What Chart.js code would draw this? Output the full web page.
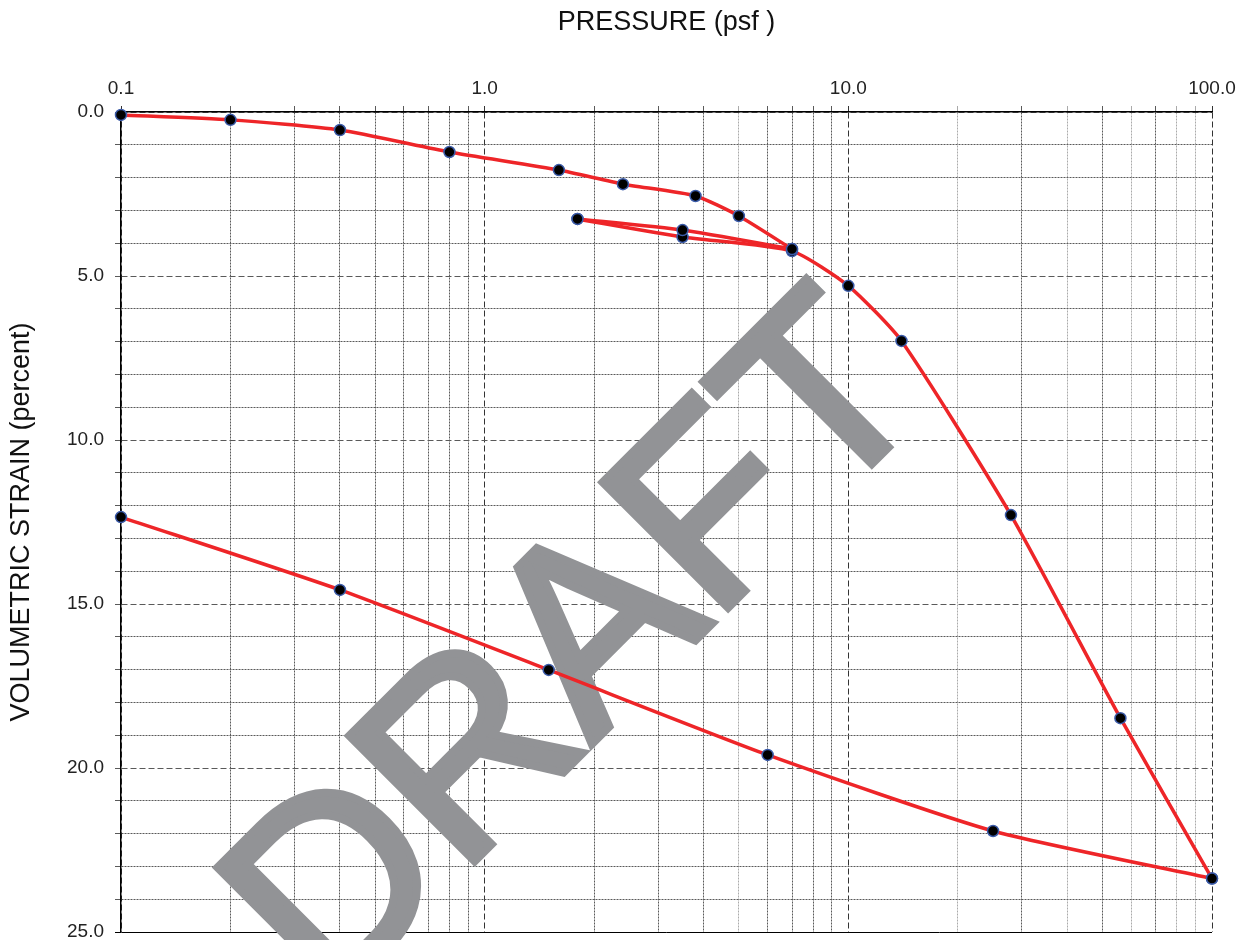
<!DOCTYPE html>
<html>
<head>
<meta charset="utf-8">
<script src="https://cdn.jsdelivr.net/npm/chart.js@4.4.1/dist/chart.umd.min.js"></script>
<style>
  body { margin: 0; background: #fff; }
  #wrap { width: 1251px; height: 940px; }
</style>
</head>
<body>
<div id="wrap"><canvas id="strainChart"></canvas></div>
<script>
// Pressão (psf) e deformação volumétrica (%), na ordem do ensaio
const pressure = [0.1, 0.2, 0.4, 0.8, 1.6, 2.4, 3.8, 5.0, 7.0, 3.5, 1.8, 3.5, 7.0, 10.0, 14.0, 28.0, 56.0, 100.0, 25.0, 6.0, 1.5, 0.4, 0.1];
const strain = [0.09, 0.24, 0.55, 1.22, 1.77, 2.2, 2.56, 3.17, 4.18, 3.6, 3.26, 3.81, 4.24, 5.3, 6.98, 12.29, 18.48, 23.37, 21.92, 19.6, 17.01, 14.57, 12.35];
// Índices onde cada ramo (carga / descarga / recarga / descarga) começa
const branchStart = [0, 8, 10, 17];

// Linhas de grade do eixo x (log) e rótulos principais
const xGridValues = [0.1, 0.2, 0.3, 0.4, 0.5, 0.6, 0.7, 0.8, 0.9, 1, 2, 3, 4, 5, 6, 7, 8, 9, 10, 20, 30, 40, 50, 60, 70, 80, 90, 100];
const xMajorValues = [0.1, 1, 10, 100];
const xLightValues = [5, 20, 40, 60, 80, 90];
const yMajorStep = 5;

const FONT = 'Liberation Sans, Arial, sans-serif';

// Função para montar um dataset por ramo da curva
function buildBranches() {
    return branchStart.map((start, b) => {
        const end = b + 1 < branchStart.length ? branchStart[b + 1] : pressure.length - 1;
        const pts = [];
        for (let i = start; i <= end; i++) pts.push({ x: pressure[i], y: strain[i] });
        return {
            data: pts,
            borderColor: '#ee2528',
            borderWidth: 3.5,
            tension: 0.2,
            pointRadius: 5.5,
            pointBackgroundColor: '#000',
            pointBorderColor: '#3b5ba9',
            pointBorderWidth: 1.5,
            fill: false,
            clip: false
        };
    });
}

// Marca d'água "DRAFT"
const draftPlugin = {
    id: 'draft',
    beforeDatasetsDraw(chart) {
        const c = chart.ctx;
        c.save();
        c.translate(632, 704);
        c.rotate(-Math.PI / 4);
        c.font = '258px ' + FONT;
        c.textAlign = 'center';
        c.textBaseline = 'alphabetic';
        c.fillStyle = '#929396';
        c.strokeStyle = '#929396';
        c.lineWidth = 8;
        c.fillText('DRAFT', 0, 0);
        c.strokeText('DRAFT', 0, 0);
        c.restore();
    }
};

function createStrainChart() {
    const ctx = document.getElementById('strainChart').getContext('2d');
    new Chart(ctx, {
        type: 'line',
        data: { datasets: buildBranches() },
        options: {
            responsive: true,
            maintainAspectRatio: false,
            animation: false,
            layout: { padding: { right: 39, bottom: 8 } },
            plugins: {
                legend: { display: false },
                tooltip: { enabled: false }
            },
            scales: {
                x: {
                    type: 'logarithmic',
                    position: 'top',
                    min: 0.1,
                    max: 100,
                    afterBuildTicks: scale => {
                        scale.ticks = xGridValues.map(v => ({ value: v }));
                    },
                    afterFit: scale => { scale.height = 112; },
                    ticks: {
                        autoSkip: false,
                        maxRotation: 0,
                        padding: 6,
                        color: '#222',
                        font: { family: FONT, size: 19 },
                        callback: v => xMajorValues.includes(v) ? v.toFixed(1) : ''
                    },
                    grid: {
                        tickLength: 6,
                        lineWidth: 1,
                        color: c => {
                            const v = c.tick ? c.tick.value : 0;
                            if (xMajorValues.includes(v)) return '#333';
                            return xLightValues.includes(v) ? '#aaa' : '#5a5a5a';
                        }
                    },
                    border: {
                        display: true,
                        color: '#000',
                        width: 1.5,
                        dash: c => {
                            const v = c.tick ? c.tick.value : 0;
                            return xMajorValues.includes(v) ? [6, 3] : [2, 1];
                        }
                    },
                    title: {
                        display: true,
                        text: 'PRESSURE (psf )',
                        color: '#111',
                        font: { family: FONT, size: 27 },
                        padding: { top: 6, bottom: 0 }
                    }
                },
                y: {
                    reverse: true,
                    min: 0,
                    max: 25,
                    afterFit: scale => {
                        scale.width = 121;
                        scale.paddingTop = 0;
                        scale.paddingBottom = 0;
                    },
                    ticks: {
                        stepSize: 1,
                        autoSkip: false,
                        padding: 11,
                        color: '#222',
                        font: { family: FONT, size: 19 },
                        callback: v => v % yMajorStep === 0 ? v.toFixed(1) : ''
                    },
                    grid: {
                        tickLength: 6,
                        lineWidth: 1,
                        color: c => {
                            const v = c.tick ? c.tick.value : 0;
                            return v === 25 ? '#000' : '#5a5a5a';
                        }
                    },
                    border: {
                        display: true,
                        color: '#000',
                        width: 1.5,
                        dash: c => {
                            const v = c.tick ? c.tick.value : 0;
                            if (v === 25) return [];
                            return v % yMajorStep === 0 ? [6, 3] : [2, 1];
                        }
                    },
                    title: {
                        display: true,
                        text: 'VOLUMETRIC STRAIN (percent)',
                        color: '#111',
                        font: { family: FONT, size: 27 },
                        padding: { top: 5, bottom: 0 }
                    }
                }
            }
        },
        plugins: [draftPlugin]
    });
}

window.addEventListener('load', createStrainChart);
</script>
</body>
</html>
